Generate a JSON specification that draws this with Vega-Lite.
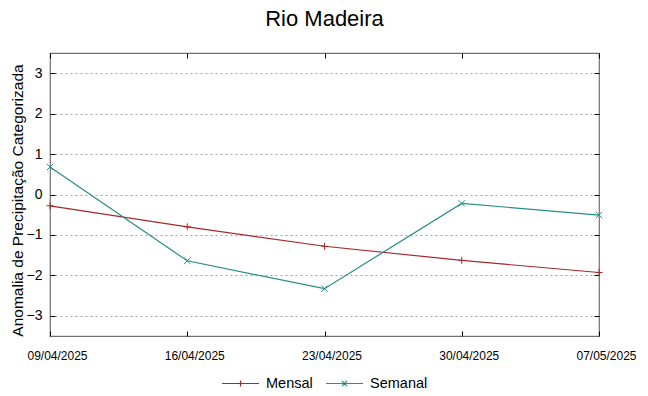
{
  "$schema": "https://vega.github.io/schema/vega-lite/v6.json",
  "width": 549,
  "height": 283,
  "autosize": {"type": "none"},
  "padding": {"left": 50, "top": 53, "right": 49, "bottom": 60},
  "background": "white",
  "title": {"text": "Rio Madeira", "font": "Liberation Sans", "fontSize": 22, "fontWeight": "normal", "color": "#000000", "anchor": "middle", "offset": 22},
  "config": {
    "view": {"stroke": "#707070", "strokeWidth": 1.2},
    "font": "Liberation Sans"
  },
  "data": {"values": [
    {"data": "09/04/2025", "serie": "Mensal", "valor": -0.28},
    {"data": "16/04/2025", "serie": "Mensal", "valor": -0.80},
    {"data": "23/04/2025", "serie": "Mensal", "valor": -1.28},
    {"data": "30/04/2025", "serie": "Mensal", "valor": -1.63},
    {"data": "07/05/2025", "serie": "Mensal", "valor": -1.93},
    {"data": "09/04/2025", "serie": "Semanal", "valor": 0.68},
    {"data": "16/04/2025", "serie": "Semanal", "valor": -1.64},
    {"data": "23/04/2025", "serie": "Semanal", "valor": -2.33},
    {"data": "30/04/2025", "serie": "Semanal", "valor": -0.22},
    {"data": "07/05/2025", "serie": "Semanal", "valor": -0.51}
  ]},
  "layer": [
    {
      "mark": {"type": "line", "strokeWidth": 1.2},
      "encoding": {
        "x": {"field": "data", "type": "ordinal", "sort": null,
          "scale": {"type": "point", "padding": 0},
          "axis": {"orient": "bottom", "offset": -5, "title": null, "labelAngle": 0, "labelFont": "Liberation Sans", "labelFontSize": 12, "labelColor": "#000000", "labelPadding": 14, "labelOffset": 7, "tickSize": 5, "tickColor": "#000000", "domain": false, "grid": false}},
        "y": {"field": "valor", "type": "quantitative",
          "scale": {"domain": [-3.5, 3.5], "nice": false, "zero": false},
          "axis": {"orient": "left", "offset": -5, "values": [-3, -2, -1, 0, 1, 2, 3], "title": "Anomalia de Precipitação Categorizada", "titleFont": "Liberation Sans", "titleFontSize": 15.5, "titleFontWeight": "normal", "titleColor": "#000000", "titlePadding": 1, "titleY": 147, "labelFont": "Liberation Sans", "labelFontSize": 14, "labelColor": "#000000", "labelPadding": 8, "tickSize": 5, "tickColor": "#000000", "domain": false, "grid": true, "gridColor": "#a0a0a0", "gridDash": [2, 3], "gridWidth": 1}},
        "color": {"field": "serie", "type": "nominal",
          "scale": {"domain": ["Mensal", "Semanal"], "range": ["#a52a2a", "#278c8c"]},
          "legend": {"orient": "none", "legendX": 171, "legendY": 311, "direction": "horizontal", "title": null, "labelFont": "Liberation Sans", "labelFontSize": 14.5, "labelColor": "#000000", "symbolSize": 1369, "symbolStrokeWidth": 1.2, "symbolType": "M-1,0H1M0,-0.16V0.16", "columnPadding": 10, "labelOffset": 6,
            "encode": {"symbols": {"update": {"shape": {"signal": "datum.value == 'Mensal' ? 'M-1,0H1M0,-0.16V0.16' : 'M-1,0H1M-0.14,-0.14L0.14,0.14M-0.14,0.14L0.14,-0.14'"}, "fill": {"value": "transparent"}}}}}}
      }
    },
    {
      "transform": [{"filter": "datum.serie == 'Mensal'"}],
      "mark": {"type": "point", "filled": false, "strokeWidth": 1, "size": 49, "opacity": 1, "shape": "M-1,0H1M0,-1V1"},
      "encoding": {
        "x": {"field": "data", "type": "ordinal", "sort": null,
          "scale": {"type": "point", "padding": 0},
          "axis": {"orient": "top", "offset": -5, "title": null, "labels": false, "tickSize": 5, "tickColor": "#000000", "domain": false, "grid": false}},
        "y": {"field": "valor", "type": "quantitative",
          "scale": {"domain": [-3.5, 3.5], "nice": false, "zero": false},
          "axis": {"orient": "right", "offset": -5, "values": [-3, -2, -1, 0, 1, 2, 3], "title": null, "labels": false, "tickSize": 5, "tickColor": "#000000", "domain": false, "grid": false}},
        "color": {"field": "serie", "type": "nominal",
          "scale": {"domain": ["Mensal", "Semanal"], "range": ["#a52a2a", "#278c8c"]}, "legend": null}
      }
    },
    {
      "transform": [{"filter": "datum.serie == 'Semanal'"}],
      "mark": {"type": "point", "filled": false, "strokeWidth": 1, "size": 40, "opacity": 1, "shape": "M-1,-1L1,1M-1,1L1,-1"},
      "encoding": {
        "x": {"field": "data", "type": "ordinal", "sort": null,
          "scale": {"type": "point", "padding": 0}, "axis": null},
        "y": {"field": "valor", "type": "quantitative",
          "scale": {"domain": [-3.5, 3.5], "nice": false, "zero": false}, "axis": null},
        "color": {"field": "serie", "type": "nominal",
          "scale": {"domain": ["Mensal", "Semanal"], "range": ["#a52a2a", "#278c8c"]}, "legend": null}
      }
    }
  ],
  "resolve": {"axis": {"x": "independent", "y": "independent"}}
}
